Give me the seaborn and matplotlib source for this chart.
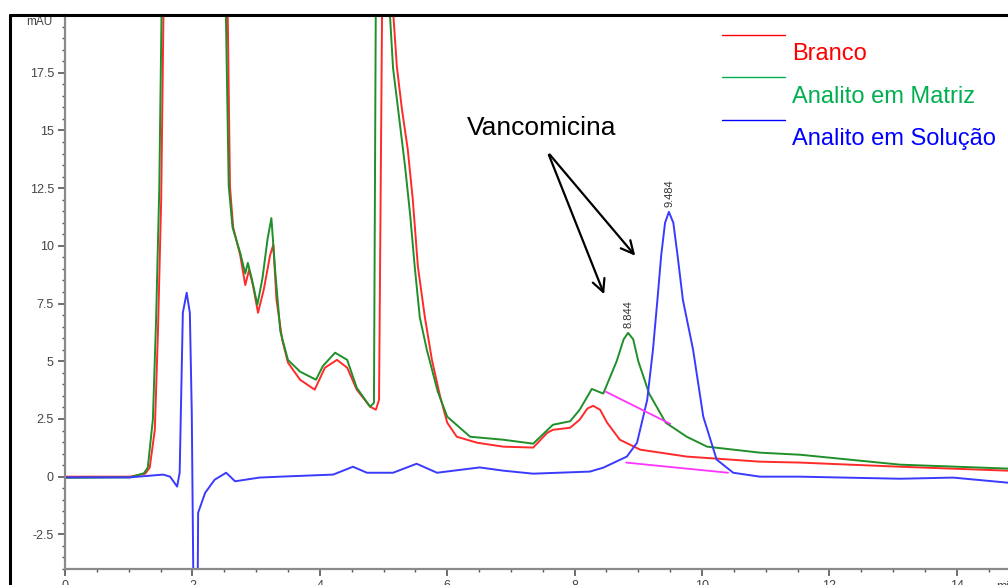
import numpy as np
import pandas as pd
import matplotlib
matplotlib.use("Agg")
import matplotlib.pyplot as plt
from matplotlib.lines import Line2D
from matplotlib.ticker import MultipleLocator
import seaborn as sns

sns.set_style("white")
plt.rcParams['font.family'] = ['Liberation Sans', 'DejaVu Sans']

# ---- data (retention time, min ; absorbance, mAU) ----
branco_t = [0.0, 0.55, 1.02, 1.26, 1.33, 1.41, 1.46, 1.51, 1.55, 2.0, 2.55, 2.59, 2.64, 2.75, 2.83, 2.89,
            2.95, 3.03, 3.12, 3.22, 3.27, 3.32, 3.41, 3.50, 3.69, 3.92, 4.08, 4.27, 4.43, 4.58, 4.79, 4.88,
            4.93, 4.98, 5.05, 5.13, 5.21, 5.29, 5.38, 5.46, 5.54, 5.65, 5.76, 5.89, 6.00, 6.15, 6.47, 6.88,
            7.35, 7.57, 7.66, 7.93, 8.08, 8.20, 8.29, 8.40, 8.51, 8.71, 9.03, 9.76, 10.91, 11.54, 13.11, 14.80]
branco_y = [0.0, 0.0, 0.0, 0.13, 0.39, 2.03, 6.36, 12.0, 21.0, 40.0, 21.0, 12.55, 10.8, 9.6, 8.3, 8.96,
            8.3, 7.1, 8.1, 9.6, 10.04, 7.66, 5.93, 4.94, 4.2, 3.77, 4.72, 5.06, 4.72, 3.77, 3.03, 2.90,
            3.33, 21.0, 40.0, 21.0, 17.75, 15.9, 14.2, 12.0, 9.1, 6.9, 5.06, 3.46, 2.34, 1.73, 1.47, 1.30,
            1.26, 1.90, 2.03, 2.12, 2.47, 2.95, 3.07, 2.90, 2.34, 1.60, 1.17, 0.87, 0.65, 0.61, 0.43, 0.26]

matriz_t = [0.0, 1.02, 1.24, 1.30, 1.38, 1.43, 1.48, 1.52, 2.0, 2.52, 2.57, 2.63, 2.75, 2.83, 2.87, 2.93,
            3.02, 3.10, 3.18, 3.24, 3.30, 3.38, 3.50, 3.69, 3.94, 4.05, 4.24, 4.43, 4.58, 4.79, 4.85, 4.88,
            4.97, 5.08, 5.15, 5.23, 5.34, 5.42, 5.49, 5.57, 5.68, 5.85, 6.00, 6.36, 6.88, 7.35, 7.66, 7.93,
            8.08, 8.27, 8.45, 8.66, 8.77, 8.84, 8.92, 9.00, 9.17, 9.43, 9.76, 10.08, 10.91, 11.54, 13.11, 14.80]
matriz_y = [-0.05, -0.03, 0.15, 0.40, 2.5, 6.8, 12.5, 21.0, 40.0, 21.0, 12.6, 10.8, 9.7, 8.8, 9.26, 8.6,
            7.45, 8.6, 10.3, 11.2, 8.9, 6.3, 5.06, 4.55, 4.2, 4.8, 5.37, 5.06, 3.85, 3.03, 3.2, 21.0,
            40.0, 21.0, 17.7, 15.9, 13.4, 11.3, 9.1, 6.9, 5.5, 3.7, 2.6, 1.73, 1.6, 1.43, 2.25, 2.4,
            2.9, 3.8, 3.6, 5.0, 5.95, 6.23, 5.95, 5.0, 3.6, 2.34, 1.73, 1.30, 1.04, 0.95, 0.52, 0.35]

solucao_t = [0.0, 1.02, 1.54, 1.65, 1.76, 1.80, 1.85, 1.91, 1.96, 1.99, 2.02, 2.08, 2.09, 2.20, 2.35, 2.53,
             2.67, 3.05, 3.38, 4.21, 4.52, 4.74, 5.15, 5.52, 5.84, 6.51, 6.88, 7.35, 8.24, 8.45, 8.82, 8.98,
             9.14, 9.23, 9.30, 9.36, 9.42, 9.48, 9.55, 9.62, 9.70, 9.86, 10.02, 10.23, 10.49, 10.91, 11.54,
             13.11, 13.94, 14.80]
solucao_y = [-0.03, -0.03, 0.09, 0.0, -0.43, 0.17, 7.1, 7.97, 7.1, 2.8, -6.0, -6.0, -1.56, -0.7, -0.13, 0.17,
             -0.2, -0.04, 0.0, 0.09, 0.43, 0.17, 0.17, 0.56, 0.17, 0.40, 0.26, 0.13, 0.22, 0.39, 0.87, 1.47,
             3.33, 5.5, 7.66, 9.6, 11.0, 11.47, 11.0, 9.5, 7.66, 5.5, 2.6, 0.74, 0.17, 0.0, 0.0,
             -0.09, -0.04, -0.26]

# integration baselines
base_matriz_t = [8.49, 9.50]
base_matriz_y = [3.68, 2.29]
base_solucao_t = [8.81, 10.41]
base_solucao_y = [0.61, 0.17]

series_names = ["Branco", "Analito em Matriz", "Analito em Solução"]
peak_times = [8.844, 9.484]
peak_heights = [6.23, 11.47]

# ---- build long frame ----
df = pd.concat([
    pd.DataFrame({"t": branco_t, "mAU": branco_y, "serie": series_names[0]}),
    pd.DataFrame({"t": matriz_t, "mAU": matriz_y, "serie": series_names[1]}),
    pd.DataFrame({"t": solucao_t, "mAU": solucao_y, "serie": series_names[2]}),
], ignore_index=True)

line_colors = {series_names[0]: "#ff2a2a", series_names[1]: "#1f8f2a", series_names[2]: "#3a3aff"}
text_colors = {series_names[0]: "#ff0000", series_names[1]: "#00b050", series_names[2]: "#0000ff"}

W, H = 1008, 585
fig = plt.figure(figsize=(W / 100, H / 100), dpi=100)
ax = fig.add_axes([65 / W, 16 / H, (W - 65) / W, (569 - 15) / H])

sns.lineplot(data=df, x="t", y="mAU", hue="serie", palette=line_colors, estimator=None,
             sort=False, units="serie", legend=False, lw=1.4, ax=ax)
sns.lineplot(x=base_matriz_t, y=base_matriz_y, color="#ff33ff", lw=1.3, ax=ax)
sns.lineplot(x=base_solucao_t, y=base_solucao_y, color="#ff33ff", lw=1.3, ax=ax)

ax.set_xlim(0, (W - 65) / 63.7)
ax.set_ylim(-4, 20)
ax.set_xlabel("")
ax.set_ylabel("")

for s in ["top", "right"]:
    ax.spines[s].set_visible(False)
for s in ["left", "bottom"]:
    ax.spines[s].set_color("#8a8a8a")
    ax.spines[s].set_linewidth(1.6)

ax.xaxis.set_major_locator(MultipleLocator(2))
ax.xaxis.set_minor_locator(MultipleLocator(0.5))
yt = [-2.5, 0, 2.5, 5, 7.5, 10, 12.5, 15, 17.5]
ax.set_yticks(yt)
ax.set_yticklabels([f"{v:g}" for v in yt])
ax.yaxis.set_minor_locator(MultipleLocator(0.5))
ax.tick_params(axis="both", which="major", direction="out", length=5, width=1.2, color="#555555",
               labelsize=9, labelcolor="#444444", pad=3, bottom=True, left=True)
ax.tick_params(axis="both", which="minor", direction="out", length=2, width=1.0, color="#555555",
               bottom=True, left=True)

ax.text(-0.2, 19.7, "mAU", ha="right", va="center", fontsize=8.5, color="#444444")
ax.text(14.62, -4.5, "min", ha="left", va="top", fontsize=9, color="#444444")

# peak labels
for pt, ph in zip(peak_times, peak_heights):
    ax.text(pt, ph + 0.2, f"{pt:.3f}", rotation=90, ha="center", va="bottom", fontsize=8, color="#333333")

# Vancomicina annotation
ax.text(7.49, 15.1, "Vancomicina", ha="center", va="center", fontsize=19, color="black")
for tip in [(8.48, 7.79), (8.98, 9.48)]:
    ax.annotate("", xy=tip, xytext=(7.58, 14.05),
                arrowprops=dict(arrowstyle="->,head_length=0.9,head_width=0.45", color="black", lw=1.6))

# legend-like labels
leg_line_y = [35, 77, 120]
leg_text_y = [54, 97, 139]
for name, ly, ty in zip(series_names, leg_line_y, leg_text_y):
    fig.add_artist(Line2D([722 / W, 785 / W], [1 - ly / H, 1 - ly / H], color=text_colors[name],
                          lw=1.0, transform=fig.transFigure))
    fig.text(792 / W, 1 - ty / H, name, color=text_colors[name], fontsize=17, ha="left", va="center")

# outer black frame
fig.add_artist(Line2D([10 / W, 10 / W], [0, 1 - 15 / H], color="black", lw=2.2, transform=fig.transFigure))
fig.add_artist(Line2D([10 / W, 1], [1 - 15 / H, 1 - 15 / H], color="black", lw=2.2, transform=fig.transFigure))

fig.savefig("out.png", dpi=100)
